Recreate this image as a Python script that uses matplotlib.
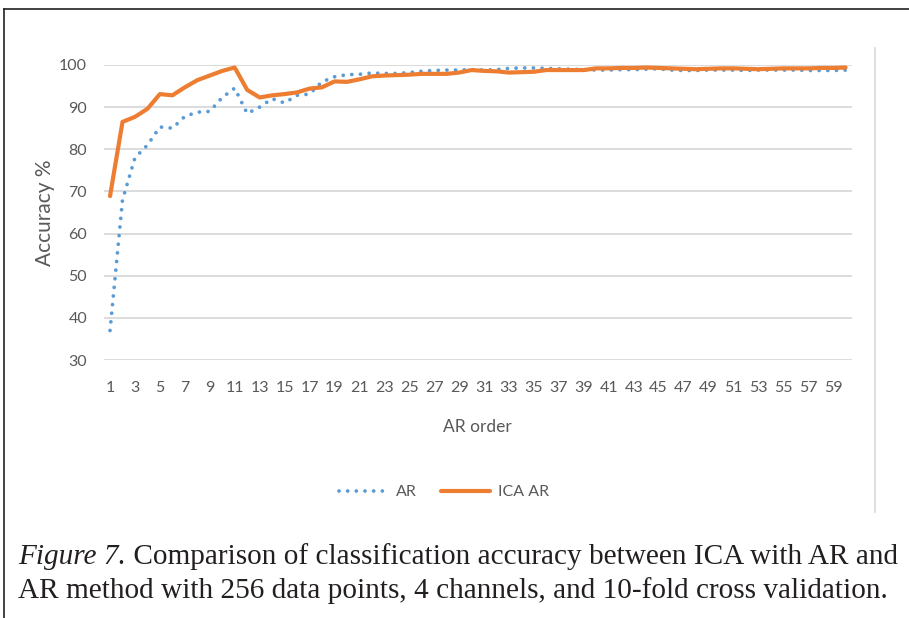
import matplotlib
matplotlib.use("Agg")
import matplotlib.pyplot as plt
from matplotlib.lines import Line2D

ar_order = list(range(1, 61))
ar_acc = [37, 68, 78, 81, 85.3, 85.0, 87.8, 88.8, 89.0, 92.3,
          94.5, 88.5, 90.0, 92.0, 91.0, 92.8, 93.1, 96.0, 97.2, 97.7,
          97.8, 98.1, 98.0, 98.0, 98.2, 98.5, 98.7, 98.8, 98.8, 98.9,
          98.8, 98.9, 99.2, 99.3, 99.3, 99.2, 99.1, 99.0, 98.9, 98.8,
          98.8, 98.9, 98.9, 99.0, 99.1, 98.8, 98.7, 98.7, 98.8, 98.8,
          98.8, 98.7, 98.8, 98.8, 98.8, 98.8, 98.7, 98.7, 98.7, 98.8]
ica_ar_acc = [68.9, 86.5, 87.7, 89.6, 93.1, 92.8, 94.7, 96.4, 97.5, 98.6,
              99.4, 94.1, 92.3, 92.8, 93.1, 93.5, 94.4, 94.7, 96.1, 96.0,
              96.6, 97.3, 97.5, 97.6, 97.7, 97.9, 97.9, 97.9, 98.2, 98.8,
              98.6, 98.5, 98.2, 98.3, 98.4, 98.8, 98.8, 98.8, 98.8, 99.2,
              99.2, 99.3, 99.3, 99.4, 99.3, 99.2, 99.1, 99.0, 99.1, 99.2,
              99.2, 99.1, 99.0, 99.1, 99.2, 99.2, 99.2, 99.3, 99.3, 99.4]
y_ticks = [30, 40, 50, 60, 70, 80, 90, 100]
x_tick_labels = [str(i) for i in range(1, 60, 2)]

series_names = ["AR", "ICA AR"]
caption_italic = "Figure 7."
caption_rest_1 = " Comparison of classification accuracy between ICA with AR and"
caption_line_2 = "AR method with 256 data points, 4 channels, and 10-fold cross validation."

blue = "#5B9BD5"
orange = "#ED7D31"
txt = "#595959"
grid_c = "#D9D9D9"
cfont = "Lato"

W, H = 909, 618
fig = plt.figure(figsize=(W / 100, H / 100), dpi=100)
fig.patch.set_facecolor("white")

def fx(px):
    return px / W

def fy(py):
    return 1 - py / H

ax = fig.add_axes([fx(103.8), fy(360), fx(748), (360 - 65) / H])
ax.set_xlim(0.5, 60.5)
ax.set_ylim(30, 100)
ax.set_yticks(y_ticks)
ax.set_xticks(list(range(1, 60, 2)))
ax.set_xticklabels(x_tick_labels)
for s in ax.spines.values():
    s.set_visible(False)
ax.grid(axis="y", color=grid_c, linewidth=1.3)
ax.set_axisbelow(True)
ax.tick_params(axis="both", length=0, labelcolor=txt, labelsize=11.5)
ax.tick_params(axis="x", pad=15)
ax.tick_params(axis="y", pad=12)
for lab in ax.get_xticklabels() + ax.get_yticklabels():
    lab.set_fontfamily(cfont)

ax.plot(ar_order, ar_acc, color=blue, linewidth=2.7,
        linestyle=(0, (0.01, 2.3)), dash_capstyle="round",
        solid_capstyle="round", label=series_names[0], clip_on=False)
ax.plot(ar_order, ica_ar_acc, color=orange, linewidth=3.0,
        solid_joinstyle="round", solid_capstyle="round",
        label=series_names[1], clip_on=False)

fig.text(fx(45), fy(213), "Accuracy %", rotation=90, ha="center", va="center",
         color=txt, fontsize=15, fontfamily=cfont)
fig.text(fx(477), fy(427), "AR order", ha="center", va="center",
         color=txt, fontsize=12.5, fontfamily=cfont)

handles = [
    Line2D([], [], color=blue, linewidth=2.7, linestyle=(0, (0.01, 2.3)),
           dash_capstyle="round"),
    Line2D([], [], color=orange, linewidth=3.0, solid_capstyle="round"),
]
leg = fig.legend(handles, series_names, loc="center",
                 bbox_to_anchor=(fx(444), fy(492)), ncol=2, frameon=False,
                 handlelength=3.1, handletextpad=0.5, columnspacing=1.5,
                 prop={"family": cfont, "size": 11.5})
for t in leg.get_texts():
    t.set_color(txt)

# frame lines and right separator
fig.add_artist(Line2D([fx(3.5), fx(3.5)], [0, fy(8.5)], color="#222222",
                      linewidth=1.2, transform=fig.transFigure))
fig.add_artist(Line2D([fx(3.5), 1], [fy(8.5), fy(8.5)], color="#222222",
                      linewidth=1.2, transform=fig.transFigure))
fig.add_artist(Line2D([fx(875), fx(875)], [fy(512), fy(48)], color="#D9D9D9",
                      linewidth=1.2, transform=fig.transFigure))

# caption
cap_size = 21.1
t1 = fig.text(fx(18), fy(557), caption_italic, ha="left", va="center",
              fontsize=cap_size, fontfamily="Liberation Serif", style="italic",
              color="#231F20")
fig.canvas.draw()
bb = t1.get_window_extent(renderer=fig.canvas.get_renderer())
fig.text(bb.x1 / W, fy(557), caption_rest_1, ha="left", va="center",
         fontsize=cap_size, fontfamily="Liberation Serif", color="#231F20")
fig.text(fx(18), fy(591), caption_line_2, ha="left", va="center",
         fontsize=cap_size, fontfamily="Liberation Serif", color="#231F20")

fig.savefig("out.png", dpi=100, facecolor="white")
